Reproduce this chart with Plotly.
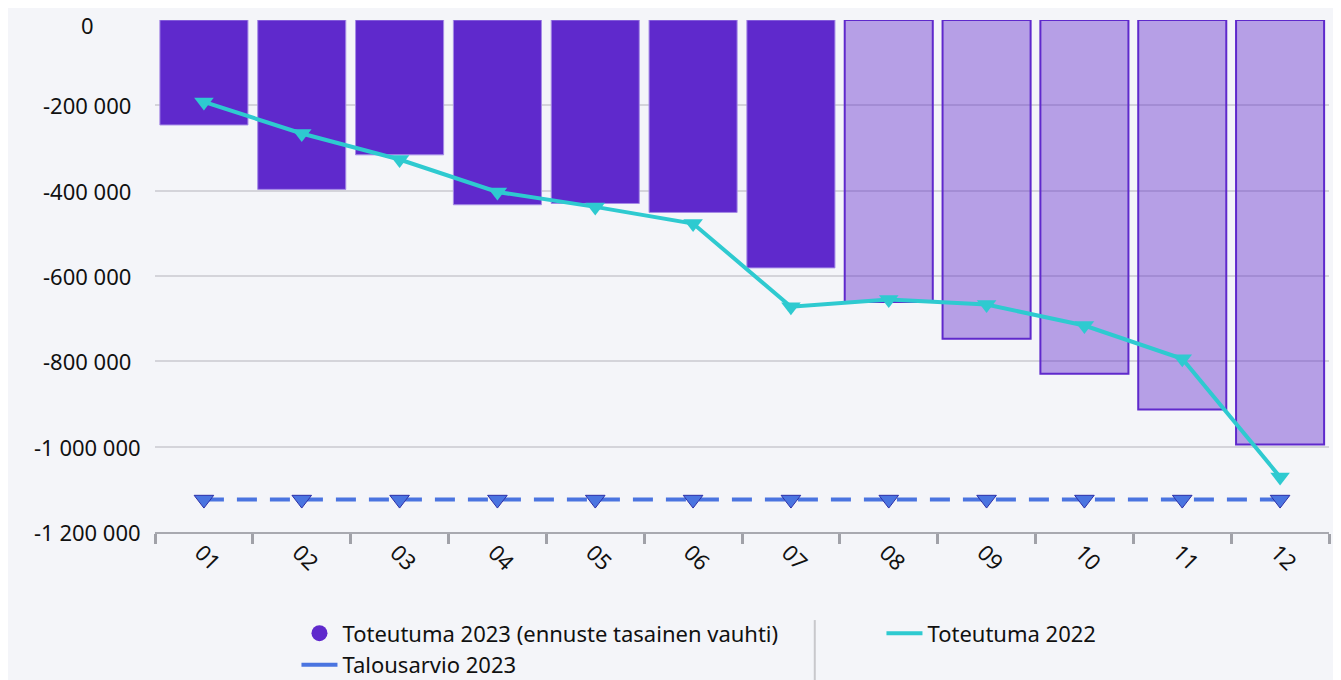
import plotly.graph_objects as go

months = ["01", "02", "03", "04", "05", "06", "07", "08", "09", "10", "11", "12"]
actual_months = months[:7]
forecast_months = months[7:]
toteutuma_2023_actual = [-246000, -397000, -316000, -433000, -430000, -451000, -581000]
toteutuma_2023_forecast = [-661000, -747000, -829000, -913000, -995000]
toteutuma_2022 = [-192000, -266000, -327000, -403000, -438000, -477000,
                  -672000, -655000, -667000, -716000, -794000, -1071000]
talousarvio_2023 = [-1124000, -1124000, -1124000, -1124000, -1124000, -1124000,
                    -1124000, -1124000, -1124000, -1124000, -1124000, -1124000]
y_ticks = [0, -200000, -400000, -600000, -800000, -1000000, -1200000]
y_tick_labels = ["0", "-200 000", "-400 000", "-600 000", "-800 000", "-1 000 000", "-1 200 000"]

PURPLE = "#5F29CC"
CYAN = "#2ECAD0"
BLUE = "#4A74E0"
BG = "#F4F5F9"
FONT = "Noto Sans"

fig = go.Figure()

fig.add_trace(go.Bar(
    x=actual_months, y=toteutuma_2023_actual,
    marker=dict(color=PURPLE, line=dict(color="#A58BE6", width=1)),
    showlegend=False, hoverinfo="x+y"))
fig.add_trace(go.Bar(
    x=forecast_months, y=toteutuma_2023_forecast,
    marker=dict(color="rgba(95,41,204,0.42)", line=dict(color=PURPLE, width=2)),
    showlegend=False, hoverinfo="x+y"))
fig.add_trace(go.Scatter(
    x=months, y=talousarvio_2023, mode="lines+markers",
    line=dict(color=BLUE, width=4, dash="20px,13px"),
    marker=dict(symbol="triangle-down", size=17, color=BLUE,
                line=dict(color="#2B2FA8", width=1)),
    showlegend=False))
fig.add_trace(go.Scatter(
    x=months, y=toteutuma_2022, mode="lines+markers",
    line=dict(color=CYAN, width=4),
    marker=dict(symbol="triangle-down", size=17, color=CYAN),
    showlegend=False))

# legend-only entries
fig.add_trace(go.Scatter(x=[None], y=[None], mode="markers", name="Toteutuma 2023 (ennuste tasainen vauhti)",
                         marker=dict(symbol="circle", size=18, color=PURPLE)))
fig.add_trace(go.Scatter(x=[None], y=[None], mode="lines", name="Toteutuma 2022",
                         line=dict(color=CYAN, width=4)))
fig.add_trace(go.Scatter(x=[None], y=[None], mode="lines", name="Talousarvio 2023",
                         line=dict(color=BLUE, width=4)))

for v, t in zip(y_ticks, y_tick_labels):
    fig.add_annotation(x=0, xref="paper", y=v, yref="y", text=t, showarrow=False,
                       xanchor="center", yanchor="middle", xshift=-68,
                       yshift=(-5 if v == 0 else 0),
                       font=dict(family=FONT, size=22, color="#111111"))

fig.add_shape(type="line", xref="paper", yref="paper", x0=0.562, x1=0.562, y0=-0.172, y1=-0.35,
              line=dict(color="#C8C8CC", width=2))

fig.update_layout(
    width=1333, height=672,
    paper_bgcolor=BG, plot_bgcolor=BG,
    margin=dict(l=147, r=12, t=12, b=148, autoexpand=False),
    barmode="overlay", bargap=0.1,
    font=dict(family=FONT, size=22, color="#111111"),
    showlegend=True,
    legend=dict(orientation="h", x=0.1205, xanchor="left", y=-0.157, yanchor="top",
                entrywidth=534, entrywidthmode="pixels", traceorder="normal", itemwidth=36,
                bgcolor="rgba(0,0,0,0)", font=dict(family=FONT, size=22, color="#111111")),
    xaxis=dict(type="category", categoryorder="array", categoryarray=months,
               range=[-0.5, 11.5],
               showline=True, linecolor="#A8A9B0", linewidth=2,
               ticks="outside", tickson="boundaries", ticklen=10, tickwidth=3, tickcolor="#A0A1A8",
               tickangle=45, ticklabelshift=-3, ticklabelstandoff=-3, showgrid=False,
               tickfont=dict(family=FONT, size=22, color="#111111")),
    yaxis=dict(range=[-1200000, 0], tickvals=y_ticks, showticklabels=False,
               showgrid=True, gridcolor="#D4D4DA", gridwidth=1.5, zeroline=False,
               showline=False),
)

fig.write_html("out.html")
